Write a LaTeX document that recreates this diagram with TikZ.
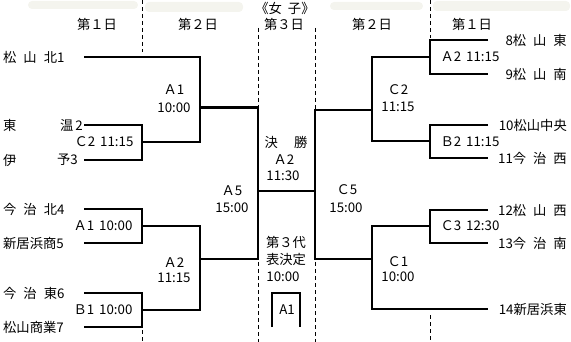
\documentclass[tikz,border=0pt]{standalone}
\usepackage{fontspec}
\setmainfont{Noto Sans CJK JP}
\definecolor{smudge}{RGB}{244,244,238}
\begin{document}
\begin{tikzpicture}[x=1pt,y=-1pt,
  br/.style={line width=2.6pt, line join=miter, line cap=butt},
  guide/.style={line width=0.9pt, dash pattern=on 4pt off 3pt},
  lbl/.style={font=\fontsize{13.3}{14}\selectfont, inner sep=0pt},
  tl/.style={lbl, anchor=west},
  tr/.style={lbl, anchor=east}]
\useasboundingbox (0,0) rectangle (571,342);
% faint smudges at the top
\fill[smudge, rounded corners=4pt] (28,1) rectangle (138,9);
\fill[smudge, rounded corners=4pt] (145,2) rectangle (243,12);
\fill[smudge, rounded corners=4pt] (330,2) rectangle (423,10);
\fill[smudge, rounded corners=4pt] (433,1) rectangle (570,11);
% headers
\node[lbl] (h1) at (97,24) {第１日};
\node[lbl] (h2) at (198,24) {第２日};
\node[lbl] (h3) at (284,24) {第３日};
\node[lbl] (h4) at (372,24) {第２日};
\node[lbl] (h5) at (472,24) {第１日};
\node[lbl] (title) at (285,8) {《女\hspace{6pt}子》};
% guide lines
\draw[guide] (142,0) -- (142,52);
\draw[guide] (142,330) -- (142,342);
\draw[guide] (258,28) -- (258,106);
\draw[guide] (258,262) -- (258,342);
\draw[guide] (315,28) -- (315,109);
\draw[guide] (315,262) -- (315,342);
\draw[guide] (430,0) -- (430,38);
\draw[guide] (430,315) -- (430,342);
% left teams
\node[tl] (n1) at (3,57) {松\hspace{7pt}山\hspace{7pt}北1};
\node[tl] (n2a) at (3,125) {東};
\node[tr] (n2) at (83,125) {温\hspace{2pt}2};
\node[tl] (n3a) at (3,160) {伊};
\node[tr] (n3) at (78,160) {予3};
\node[tl] (n4) at (3,209) {今\hspace{7pt}治\hspace{7pt}北4};
\node[tl] (n5) at (3,243) {新居浜商5};
\node[tl] (n6) at (3,293) {今\hspace{7pt}治\hspace{7pt}東6};
\node[tl] (n7) at (3,327) {松山商業7};
% right teams
\node[tr] (n8) at (567,40) {8松\hspace{7pt}山\hspace{7pt}東};
\node[tr] (n9) at (567,74) {9松\hspace{7pt}山\hspace{7pt}南};
\node[tr] (n10) at (567,125) {10松山中央};
\node[tr] (n11) at (567,158) {11今\hspace{7pt}治\hspace{7pt}西};
\node[tr] (n12) at (567,210) {12松\hspace{7pt}山\hspace{7pt}西};
\node[tr] (n13) at (567,243) {13今\hspace{7pt}治\hspace{7pt}南};
\node[tr] (n14) at (567,309) {14新居浜東};
% line ends
\coordinate (t1) at (84,57);
\coordinate (t2) at (84,125);
\coordinate (t3) at (84,160);
\coordinate (t4) at (84,209);
\coordinate (t5) at (84,243);
\coordinate (t6) at (84,293);
\coordinate (t7) at (84,327);
\coordinate (t8) at (488,40);
\coordinate (t9) at (488,74);
\coordinate (t10) at (488,125);
\coordinate (t11) at (488,158);
\coordinate (t12) at (488,210);
\coordinate (t13) at (488,243);
\coordinate (t14) at (488,309);
% junctions
\coordinate (jC2L) at (142,142);
\coordinate (jA1L) at (142,226);
\coordinate (jB1L) at (142,310);
\coordinate (jA1T) at (200,107.5);
\coordinate (jA2L) at (200,259);
\coordinate (jA2R) at (430,57);
\coordinate (jB2R) at (430,141);
\coordinate (jC3R) at (430,226);
\coordinate (jC2R) at (372,110);
\coordinate (jC1R) at (372,259);
\coordinate (fL) at (258,191);
\coordinate (fR) at (315,191);
% left bracket
\draw[br] (t2) -| (jC2L) |- (t3);
\draw[br] (t1) -| (200,142) -- (jC2L);
\draw[br] (t4) -| (jA1L) |- (t5);
\draw[br] (t6) -| (jB1L) |- (t7);
\draw[br] (jA1L) -| (jA2L) |- (jB1L);
\draw[br] (jA1T) -| (fL) |- (jA2L);
% final
\draw[br] (fL) -- (fR);
% right bracket
\draw[br] (jC2R) -| (fR) |- (jC1R);
\draw[br] (t8) -| (jA2R) |- (t9);
\draw[br] (t10) -| (jB2R) |- (t11);
\draw[br] (jA2R) -| (jC2R) |- (jB2R);
\draw[br] (t12) -| (jC3R) |- (t13);
\draw[br] (jC3R) -| (jC1R) |- (t14);
% third-place box
\draw[br] (272,327) |- (300,293) -- (300,327);
% match labels left
\node[lbl] (mA1a) at (174,90) {Ａ1};
\node[lbl] (mA1b) at (174,108) {10:00};
\node[lbl] (mC2L) at (104,142) {Ｃ2\hspace{5pt}11:15};
\node[lbl] (mA1L) at (103,226) {Ａ1\hspace{5pt}10:00};
\node[lbl] (mB1L) at (103,310) {Ｂ1\hspace{5pt}10:00};
\node[lbl] (mA2a) at (174,263) {Ａ2};
\node[lbl] (mA2b) at (174,278) {11:15};
\node[lbl] (mA5a) at (232,191) {Ａ5};
\node[lbl] (mA5b) at (232,208) {15:00};
% centre labels
\node[lbl] (fin) at (286,142) {決\hspace{16pt}勝};
\node[lbl] (finA) at (284,160) {Ａ2};
\node[lbl] (finT) at (283,176) {11:30};
\node[lbl] (thA) at (286,242) {第３代};
\node[lbl] (thB) at (286,259) {表決定};
\node[lbl] (thT) at (283,277) {10:00};
\node[lbl] (thM) at (287,310) {A1};
% match labels right
\node[lbl] (mA2R) at (470,57) {Ａ2\hspace{5pt}11:15};
\node[lbl] (mC2a) at (398,90) {Ｃ2};
\node[lbl] (mC2b) at (398,107) {11:15};
\node[lbl] (mB2R) at (470,142) {Ｂ2\hspace{5pt}11:15};
\node[lbl] (mC5a) at (347,190) {Ｃ5};
\node[lbl] (mC5b) at (346,208) {15:00};
\node[lbl] (mC3R) at (470,226) {Ｃ3\hspace{5pt}12:30};
\node[lbl] (mC1a) at (398,262) {Ｃ1};
\node[lbl] (mC1b) at (398,277) {10:00};
\end{tikzpicture}
\end{document}
